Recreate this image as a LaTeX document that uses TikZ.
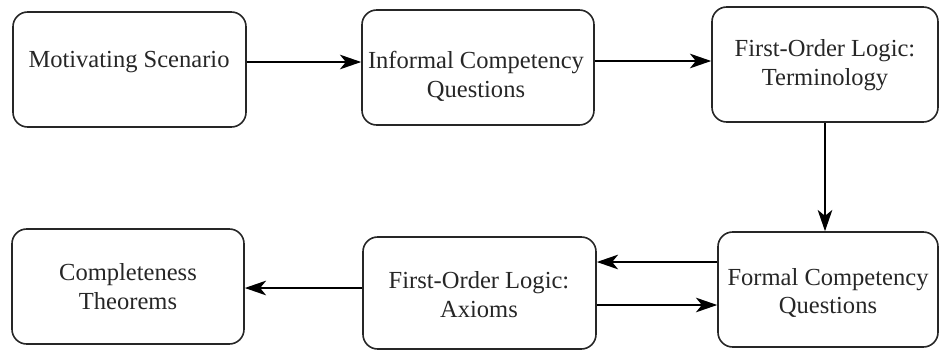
\documentclass[tikz,border=0pt]{standalone}
\usepackage{fontspec}
\setmainfont{Liberation Serif}
\usetikzlibrary{arrows.meta}
\begin{document}
\begin{tikzpicture}[x=0.75pt,y=-0.75pt,
  box/.style={draw=black!85, line width=1.2pt, rounded corners=11pt, inner sep=0pt},
  lbl/.style={align=center, font=\rmfamily\fontsize{18.4pt}{21.6pt}\selectfont, text=black!85, inner sep=0pt},
  arr/.style={draw=black, line width=1.1pt, -{Stealth[length=16pt,width=11pt,inset=4.5pt]}}]
\useasboundingbox (0,0) rectangle (940,351);
% boxes
\node[box, minimum width=233*0.75pt, minimum height=115*0.75pt] (b1) at (129.5,69.5) {};
\node[box, minimum width=232*0.75pt, minimum height=115*0.75pt] (b2) at (478,67.5) {};
\node[box, minimum width=226*0.75pt, minimum height=115*0.75pt] (b3) at (825,64.5) {};
\node[box, minimum width=220*0.75pt, minimum height=115*0.75pt] (b4) at (828,289.5) {};
\node[box, minimum width=233*0.75pt, minimum height=112*0.75pt] (b5) at (479.5,293) {};
\node[box, minimum width=232*0.75pt, minimum height=115*0.75pt] (b6) at (128,286.5) {};
% labels
\node[lbl] (t1) at (129,62) {Motivating Scenario};
\node[lbl] (t2) at (476,76) {Informal Competency\\Questions};
\node[lbl] (t3) at (825,65) {First-Order Logic:\\Terminology};
\node[lbl] (t4) at (828,293) {Formal Competency\\Questions};
\node[lbl] (t5) at (479,295) {First-Order Logic:\\Axioms};
\node[lbl] (t6) at (128,287) {Completeness\\Theorems};
% connectors
\draw[arr] (b1.east |- 0,62) -- (b2.west |- 0,62);
\draw[arr] (b2.east |- 0,61) -- (b3.west |- 0,61);
\draw[arr] (b3.south) -- (b3.south |- b4.north);
\draw[arr] (b4.west |- 0,262) -- (b5.east |- 0,262);
\draw[arr] (b5.east |- 0,305) -- (b4.west |- 0,305);
\draw[arr] (b5.west |- 0,288) -- (b6.east |- 0,288);
\end{tikzpicture}
\end{document}
